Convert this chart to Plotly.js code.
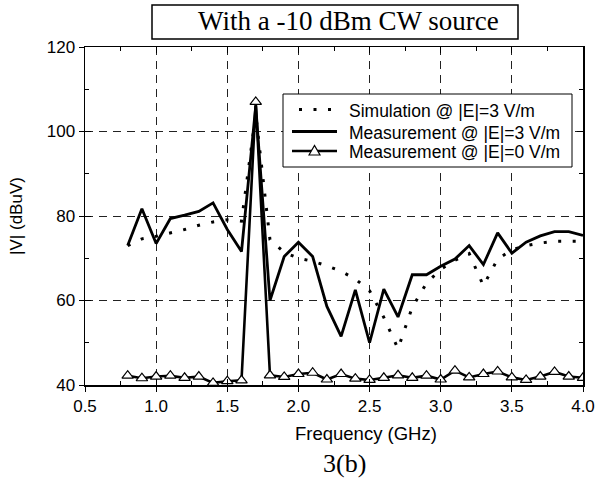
<!DOCTYPE html>
<html>
<head>
<meta charset="utf-8">
<script src="https://cdn.plot.ly/plotly-3.0.1.min.js"></script>
<style>html,body{margin:0;padding:0;background:#fff;}#chart{width:603px;height:482px;}</style>
</head>
<body>
<div id="chart"></div>
<script>
var freq = [0.8,0.9,1.0,1.1,1.2,1.3,1.4,1.5,1.6,1.7,1.8,1.9,2.0,2.1,2.2,2.3,2.4,2.5,2.6,2.7,2.8,2.9,3.0,3.1,3.2,3.3,3.4,3.5,3.6,3.7,3.8,3.9,4.0];
var simE3 = [73.0,74.6,75.2,76.0,76.8,77.8,78.6,79.1,78.8,104.0,74.4,71.4,70.0,69.3,68.2,66.9,65.1,62.3,56.0,48.6,58.4,64.1,67.4,69.5,71.1,63.5,69.8,72.0,73.0,73.6,74.0,74.0,74.0];
var measE3 = [73.0,81.7,73.5,79.4,80.2,81.1,83.1,76.8,71.6,106.0,60.0,70.4,73.8,70.4,58.6,51.5,62.5,50.0,62.7,56.1,66.1,66.1,68.1,69.8,73.0,68.5,76.0,71.2,73.8,75.3,76.3,76.3,75.4];
var measE0 = [42.2,41.6,42.0,42.2,41.7,42.0,40.5,40.9,41.1,107.0,42.3,41.9,42.6,42.9,41.3,42.6,41.5,41.2,41.7,42.3,41.7,42.2,41.3,43.4,41.8,42.6,43.2,41.8,41.2,42.0,43.1,42.0,41.7];
var seriesNames = ["Simulation @ |E|=3 V/m","Measurement @ |E|=3 V/m","Measurement @ |E|=0 V/m"];
var xTicks = [0.5,1.0,1.5,2.0,2.5,3.0,3.5,4.0];
var xTickText = ["0.5","1.0","1.5","2.0","2.5","3.0","3.5","4.0"];
var yTicks = [40,60,80,100,120];
var chartTitle = "With a -10 dBm CW source";
var xTitle = "Frequency (GHz)";
var yTitle = "|V| (dBuV)";
var caption = "3(b)";

var lineStyles = [
  {color: '#000', width: 3, dash: '3px,11.5px'},
  {color: '#000', width: 2.8},
  {color: '#000', width: 2.6}
];

var traces = [
  {x: freq, y: simE3, name: seriesNames[0], mode: 'lines', line: lineStyles[0]},
  {x: freq, y: measE3, name: seriesNames[1], mode: 'lines', line: lineStyles[1]},
  {x: freq, y: measE0, name: seriesNames[2], mode: 'lines+markers', line: lineStyles[2],
   marker: {symbol: 'triangle-up', size: 10, color: '#fff', line: {color: '#000', width: 1.2}}},
  {x: [0.5,4.0], y: [40,120], xaxis: 'x2', yaxis: 'y2', mode: 'markers',
   marker: {opacity: 0}, showlegend: false, hoverinfo: 'skip'}
];

var axFont = {family: 'Arial, "Liberation Sans", sans-serif', size: 17, color: '#000'};
var serif = '"Liberation Serif", "Times New Roman", serif';

// paper-coordinate helpers for the fixed-size figure (plot area 85..583 x 47..385)
function px(x) { return (x - 85) / 498; }
function py(y) { return (385 - y) / 338; }

// hand-built legend (box, samples, texts)
var legRows = [109.5, 131.5, 151];
var shapes = [
  {type: 'rect', xref: 'paper', yref: 'paper', x0: px(152), x1: px(518), y0: py(39), y1: py(5),
   line: {color: '#000', width: 1.5}, fillcolor: 'rgba(0,0,0,0)'},
  {type: 'rect', xref: 'paper', yref: 'paper', x0: px(283), x1: px(572), y0: py(167), y1: py(94),
   line: {color: '#000', width: 1}, fillcolor: '#fff', layer: 'above'},
  {type: 'line', xref: 'paper', yref: 'paper', x0: px(299), x1: px(332), y0: py(legRows[0]), y1: py(legRows[0]),
   line: lineStyles[0]},
  {type: 'line', xref: 'paper', yref: 'paper', x0: px(292), x1: px(337), y0: py(legRows[1]), y1: py(legRows[1]),
   line: lineStyles[1]},
  {type: 'line', xref: 'paper', yref: 'paper', x0: px(292), x1: px(337), y0: py(legRows[2]), y1: py(legRows[2]),
   line: lineStyles[2]},
  {type: 'path', xref: 'paper', yref: 'paper',
   path: 'M' + px(309) + ',' + py(legRows[2] + 4) + ' L' + px(314.5) + ',' + py(legRows[2] - 5.5) +
         ' L' + px(320) + ',' + py(legRows[2] + 4) + ' Z',
   line: {color: '#000', width: 1.2}, fillcolor: '#fff'}
];

var annotations = [
  {text: chartTitle, xref: 'paper', yref: 'paper', x: px(348), y: py(21),
   xanchor: 'center', yanchor: 'middle', showarrow: false,
   font: {family: serif, size: 27, color: '#000'}},
  {text: xTitle, xref: 'paper', yref: 'paper', x: px(366), y: py(433),
   xanchor: 'center', yanchor: 'middle', showarrow: false,
   font: {family: axFont.family, size: 18.5, color: '#000'}},
  {text: caption, xref: 'paper', yref: 'paper', x: px(344), y: py(463),
   xanchor: 'center', yanchor: 'middle', showarrow: false,
   font: {family: serif, size: 26, color: '#000'}}
];
for (var i = 0; i < seriesNames.length; i++) {
  annotations.push({text: seriesNames[i], xref: 'paper', yref: 'paper', x: px(347), y: py(legRows[i] + 1),
    xanchor: 'left', yanchor: 'middle', showarrow: false,
    font: {family: axFont.family, size: 17.5, color: '#000'}});
}

var layout = {
  width: 603, height: 482,
  margin: {l: 85, r: 20, t: 47, b: 97},
  paper_bgcolor: '#fff', plot_bgcolor: '#fff',
  showlegend: false,
  xaxis: {range: [0.5, 4.0], tickvals: xTicks, ticktext: xTickText,
    ticks: 'outside', ticklen: 5, tickwidth: 1, tickcolor: '#000',
    showline: true, linecolor: '#000', linewidth: 1.5, mirror: true,
    showgrid: true, gridcolor: '#222', gridwidth: 1, griddash: '8px,6px',
    zeroline: false, tickfont: axFont},
  yaxis: {range: [40, 120], tickvals: yTicks,
    ticks: 'outside', ticklen: 5, tickwidth: 1, tickcolor: '#000',
    showline: true, linecolor: '#000', linewidth: 1.5, mirror: true,
    showgrid: true, gridcolor: '#222', gridwidth: 1, griddash: '8px,6px',
    zeroline: false, tickfont: axFont,
    title: {text: yTitle, font: axFont, standoff: 20}},
  xaxis2: {range: [0.5, 4.0], overlaying: 'x', side: 'bottom', anchor: 'y2',
    tickvals: xTicks, showticklabels: false, ticks: 'inside', ticklen: 6, tickcolor: '#000',
    mirror: 'allticks', showline: false, showgrid: false, zeroline: false,
    minor: {tickvals: [0.75,1.25,1.75,2.25,2.75,3.25,3.75], ticks: 'inside', ticklen: 4, tickcolor: '#000', showgrid: false}},
  yaxis2: {range: [40, 120], overlaying: 'y', side: 'left', anchor: 'x2',
    tickvals: yTicks, showticklabels: false, ticks: 'inside', ticklen: 6, tickcolor: '#000',
    mirror: 'allticks', showline: false, showgrid: false, zeroline: false,
    minor: {tickvals: [50,70,90,110], ticks: 'inside', ticklen: 4, tickcolor: '#000', showgrid: false}},
  shapes: shapes,
  annotations: annotations
};

Plotly.newPlot('chart', traces, layout, {displayModeBar: false, staticPlot: true});
</script>
</body>
</html>
